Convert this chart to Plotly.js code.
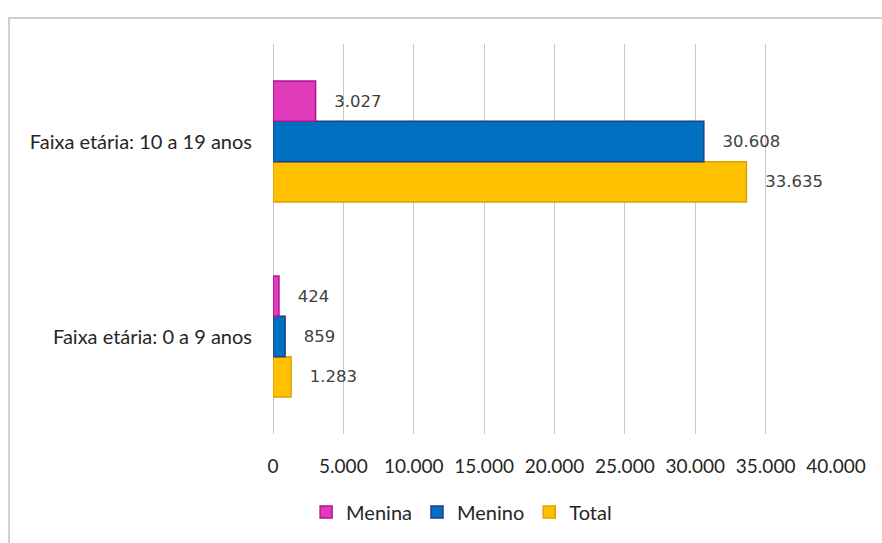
<!DOCTYPE html>
<html>
<head>
<meta charset="utf-8">
<script src="https://cdn.plot.ly/plotly-3.0.1.min.js"></script>
<style>
  html, body { margin: 0; padding: 0; background: #fff; }
  #wrap { position: relative; width: 882px; height: 543px; overflow: hidden; }
  #chart { position: absolute; left: 0; top: 0; width: 882px; height: 543px; }
  #frame { position: absolute; left: 8px; top: 17px; width: 900px; height: 560px;
           border-left: 2px solid #cfcfcf; border-top: 2px solid #cfcfcf; pointer-events: none; }
</style>
</head>
<body>
<div id="wrap">
  <div id="chart"></div>
  <div id="frame"></div>
</div>
<script>
const categories = ["Faixa etária: 0 a 9 anos", "Faixa etária: 10 a 19 anos"];
const menina = [424, 3027];
const menino = [859, 30608];
const total = [1283, 33635];
const xTicks = [0, 5000, 10000, 15000, 20000, 25000, 30000, 35000, 40000];

const pad = "\u00a0\u00a0\u00a0";
function series(name, vals, fill, edge, rank) {
  return {
    type: "bar", orientation: "h", name: name,
    y: categories, x: vals,
    marker: { color: fill, line: { color: edge, width: 1.5 } },
    texttemplate: pad + "%{x:,d}", textposition: "outside", cliponaxis: false,
    textfont: { family: "DejaVu Sans", size: 16.5, color: "#404040" },
    legendrank: rank, hoverinfo: "skip"
  };
}
const data = [
  series("Total", total, "#ffc000", "#d9a300", 3),
  series("Menino", menino, "#0070c0", "#1f3f8a", 2),
  series("Menina", menina, "#e03bba", "#b01590", 1)
];

const layout = {
  width: 882, height: 543,
  margin: { l: 273, r: 46, t: 44, b: 106 },
  paper_bgcolor: "#ffffff", plot_bgcolor: "#ffffff",
  separators: ",.",
  barmode: "group", bargap: 0.38, bargroupgap: 0,
  showlegend: true,
  font: { family: "Lato", size: 20, color: "#262626" },
  xaxis: {
    range: [0, 40000], tickvals: xTicks, tickformat: ",d",
    showgrid: true, gridcolor: "#c8c8c8", gridwidth: 1,
    zeroline: true, zerolinecolor: "#c8c8c8", zerolinewidth: 1,
    showline: false, ticks: "", ticklabelstandoff: 19,
    tickfont: { family: "Lato", size: 19, color: "#262626" },
    fixedrange: true
  },
  yaxis: {
    type: "category", showgrid: false, zeroline: false, showline: false,
    ticks: "", ticklabelstandoff: 20,
    tickfont: { family: "Lato", size: 20, color: "#262626" },
    fixedrange: true
  },
  legend: {
    orientation: "h", x: 0.335, xanchor: "center", y: -0.2, yanchor: "middle",
    font: { family: "Lato", size: 20, color: "#262626" },
    itemwidth: 30, traceorder: "normal"
  }
};

Plotly.newPlot("chart", data, layout, { displayModeBar: false, staticPlot: true });
</script>
</body>
</html>
